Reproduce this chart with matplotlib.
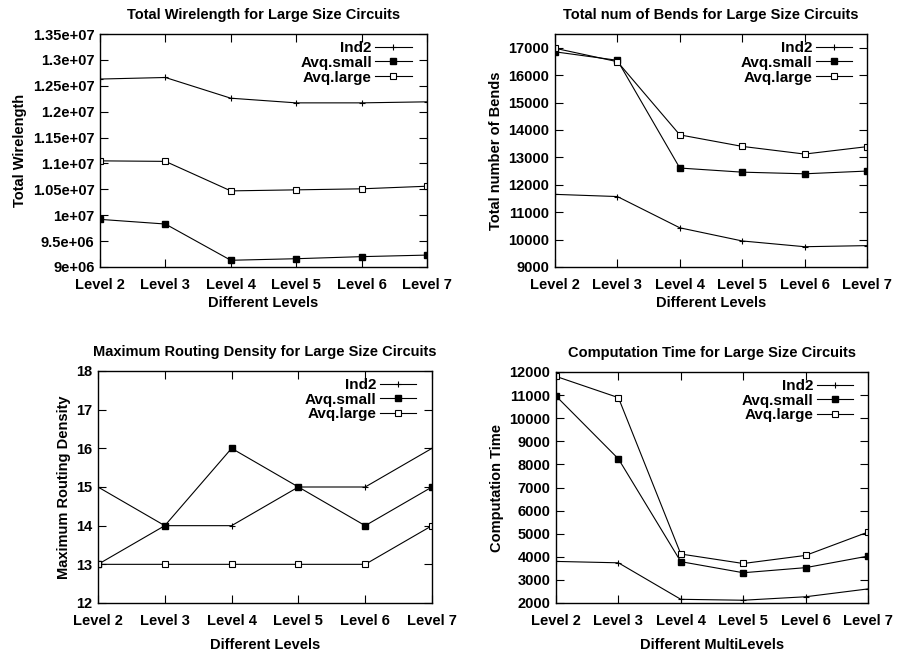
import matplotlib.pyplot as plt
from matplotlib.ticker import FuncFormatter

levels = ['Level 2', 'Level 3', 'Level 4', 'Level 5', 'Level 6', 'Level 7']
series_names = ['Ind2', 'Avq.small', 'Avq.large']

# Total wirelength
wl_ind2 = [12.63e6, 12.66e6, 12.26e6, 12.17e6, 12.17e6, 12.19e6]
wl_small = [9.92e6, 9.83e6, 9.13e6, 9.16e6, 9.20e6, 9.23e6]
wl_large = [11.05e6, 11.04e6, 10.47e6, 10.49e6, 10.51e6, 10.56e6]

# Total number of bends
bd_ind2 = [11650, 11570, 10430, 9950, 9740, 9780]
bd_small = [16850, 16540, 12610, 12460, 12400, 12500]
bd_large = [16980, 16490, 13820, 13400, 13120, 13390]

# Maximum routing density
rd_ind2 = [15, 14, 14, 15, 15, 16]
rd_small = [13, 14, 16, 15, 14, 15]
rd_large = [13, 13, 13, 13, 13, 14]

# Computation time
ct_ind2 = [3800, 3740, 2160, 2120, 2270, 2610]
ct_small = [10960, 8240, 3790, 3310, 3530, 4030]
ct_large = [11810, 10890, 4120, 3710, 4060, 5070]

plt.rcParams['font.family'] = 'Liberation Sans'
plt.rcParams['font.weight'] = 'bold'
plt.rcParams['font.size'] = 10.5

W, H = 901, 652
fig = plt.figure(figsize=(W / 100, H / 100), dpi=100)


def make_panel(rect, ind2, small, large, title, xlabel, ylabel, ylim, ystep,
               fmt=None, xlabelpad=3, titlepad=11):
    ax = fig.add_axes([rect[0] / W, 1 - rect[3] / H,
                       (rect[2] - rect[0]) / W, (rect[3] - rect[1]) / H])
    x = list(range(len(levels)))
    ax.plot(x, ind2, color='black', lw=0.8, marker='+', ms=5, mew=0.8,
            label=series_names[0])
    ax.plot(x, small, color='black', lw=0.8, marker='s', ms=5,
            mfc='black', label=series_names[1])
    ax.plot(x, large, color='black', lw=0.8, marker='s', ms=4.5,
            mfc='white', mew=0.8, label=series_names[2])
    ax.set_xlim(0, len(levels) - 1)
    ax.set_ylim(*ylim)
    yt = []
    v = ylim[0]
    while v <= ylim[1] + ystep * 0.01:
        yt.append(v)
        v += ystep
    ax.set_yticks(yt)
    ax.set_xticks(x)
    ax.set_xticklabels(levels, fontweight='bold')
    if fmt is not None:
        ax.yaxis.set_major_formatter(FuncFormatter(fmt))
    ax.tick_params(direction='in', top=True, right=True, length=6,
                   width=0.8, labelsize=10.5)
    ax.tick_params(axis='x', pad=8)
    ax.tick_params(axis='y', pad=4)
    for s in ax.spines.values():
        s.set_linewidth(1.0)
    ax.set_title(title, fontsize=10.5, fontweight='bold', pad=titlepad)
    ax.set_xlabel(xlabel, fontweight='bold', labelpad=xlabelpad)
    ax.set_ylabel(ylabel, fontweight='bold')
    ax.legend(loc='upper right', bbox_to_anchor=(0.953, 0.97),
              markerfirst=False, frameon=False,
              handlelength=2.4, handletextpad=0.2, labelspacing=0.05,
              borderaxespad=0, borderpad=0,
              prop={'weight': 'bold', 'size': 11})
    return ax


make_panel((100, 34, 427, 267), wl_ind2, wl_small, wl_large,
           'Total Wirelength for Large Size Circuits', 'Different Levels',
           'Total Wirelength', (9e6, 1.35e7), 5e5, fmt=lambda v, p: '%g' % v)
make_panel((555, 34, 867, 267), bd_ind2, bd_small, bd_large,
           'Total num of Bends for Large Size Circuits', 'Different Levels',
           'Total number of Bends', (9000, 17500), 1000)
make_panel((98, 371, 432, 603), rd_ind2, rd_small, rd_large,
           'Maximum Routing Density for Large Size Circuits', 'Different Levels',
           'Maximum Routing Density', (12, 18), 1, xlabelpad=7)
make_panel((556, 372, 868, 603), ct_ind2, ct_small, ct_large,
           'Computation Time for Large Size Circuits', 'Different MultiLevels',
           'Computation Time', (2000, 12000), 1000, xlabelpad=7)

fig.savefig('out.png', dpi=100)
